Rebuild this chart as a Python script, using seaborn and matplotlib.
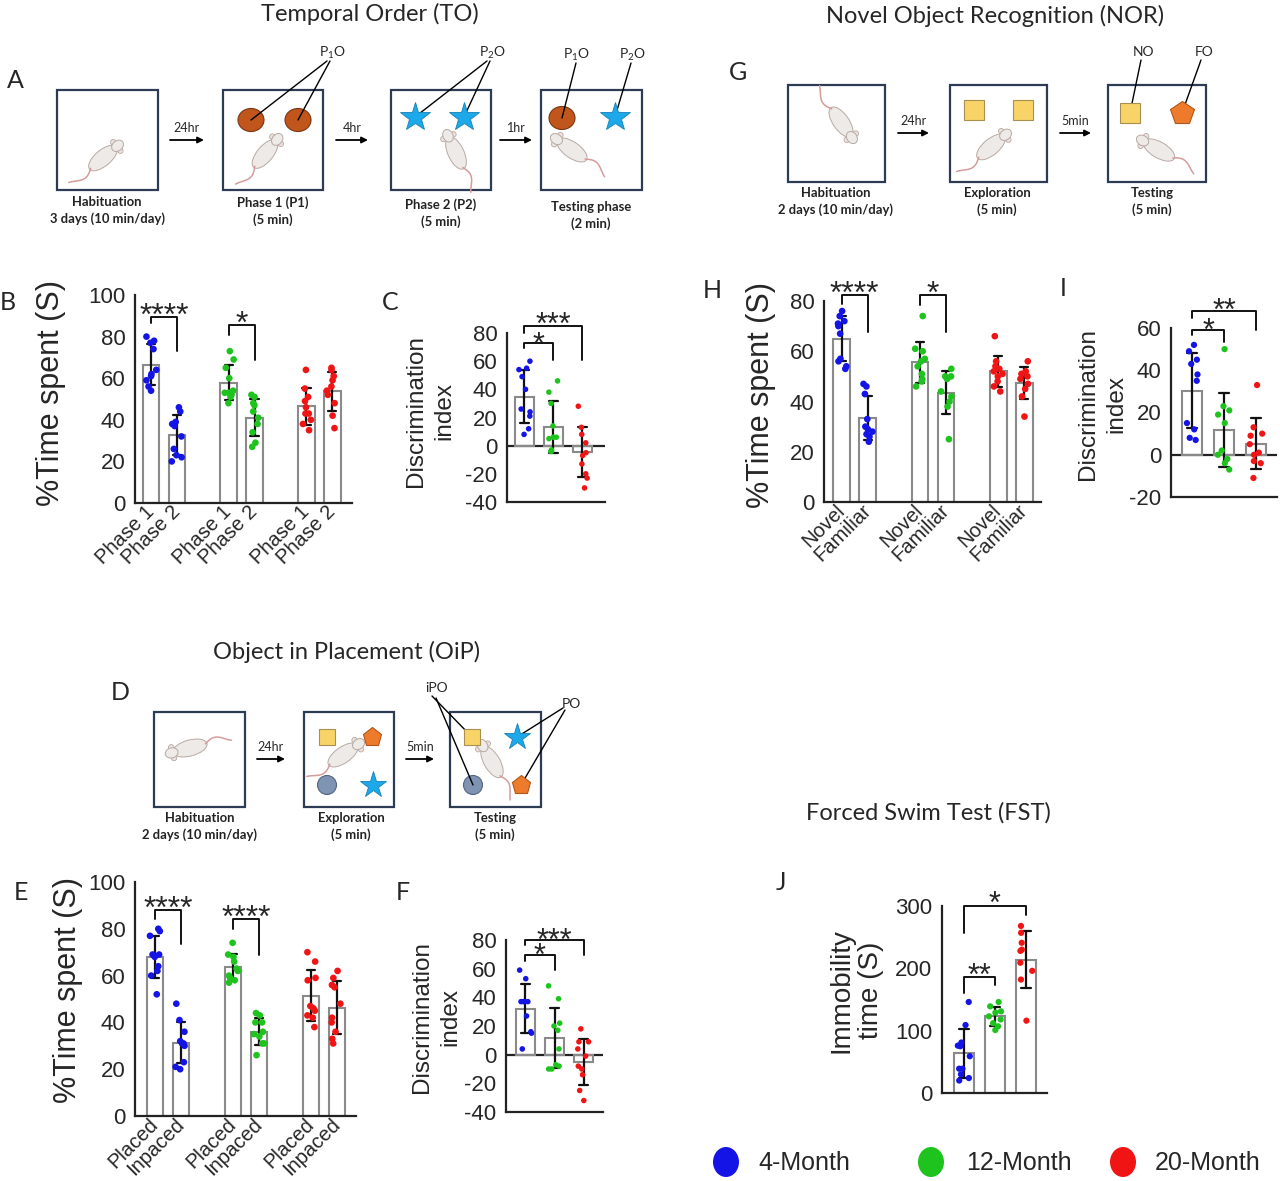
import numpy as np
import pandas as pd
import matplotlib
matplotlib.use('Agg')
import matplotlib.pyplot as plt
from matplotlib.patches import Rectangle, Ellipse
import seaborn as sns

W, H = 1280, 1181

# ---------------- data ----------------
ages = ['4-Month', '12-Month', '20-Month']
age_colors = ['#1414E6', '#1EC31E', '#F01414']

# B  Temporal order, % time spent
to_p1_4m = [80, 78, 77, 74, 64, 62, 61, 59, 56, 54]
to_p2_4m = [46, 44, 39, 38, 37, 32, 26, 23, 22, 20]
to_p1_12m = [73, 69, 65, 60, 54, 53, 53, 52, 51, 48]
to_p2_12m = [52, 51, 48, 47, 44, 41, 38, 34, 29, 27]
to_p1_20m = [64, 55, 51, 49, 46, 43, 43, 40, 38, 35]
to_p2_20m = [65, 64, 61, 59, 56, 54, 52, 48, 42, 36]
to_labels = ['Phase 1', 'Phase 2']

# C  Temporal order, discrimination index
to_di_4m = [60, 55, 54, 49, 40, 26, 24, 21, 12, 8]
to_di_12m = [46, 38, 30, 14, 6, 6, 5, -3, -4, -4]
to_di_20m = [28, 13, 8, 2, -5, -7, -13, -20, -23, -30]

# E  Object in placement, % time spent
oip_pl_4m = [80, 79, 77, 69, 69, 68, 64, 62, 60, 52]
oip_in_4m = [48, 41, 36, 32, 31, 31, 30, 23, 21, 20]
oip_pl_12m = [74, 69, 68, 66, 63, 62, 60, 59, 58, 57]
oip_in_12m = [44, 43, 40, 40, 36, 35, 34, 31, 31, 26]
oip_pl_20m = [70, 66, 59, 58, 47, 46, 45, 43, 42, 38]
oip_in_20m = [62, 59, 56, 55, 48, 42, 40, 36, 33, 31]
oip_labels = ['Placed', 'Inpaced']

# F  Object in placement, discrimination index
oip_di_4m = [59, 53, 37, 37, 37, 37, 27, 16, 15, 4]
oip_di_12m = [48, 39, 22, 20, 17, 4, -7, -8, -10, -10]
oip_di_20m = [18, 9, 9, 4, -1, -8, -10, -14, -25, -32]

# H  Novel object recognition, % time spent
nor_nov_4m = [76, 74, 72, 71, 70, 67, 57, 56, 54, 53]
nor_fam_4m = [47, 46, 43, 33, 30, 29, 28, 27, 26, 24]
nor_nov_12m = [74, 61, 60, 57, 56, 54, 51, 49, 48, 46]
nor_fam_12m = [53, 50, 50, 49, 44, 42, 40, 38, 25]
nor_nov_20m = [66, 56, 54, 53, 52, 51, 50, 48, 46, 44]
nor_fam_20m = [56, 52, 51, 50, 49, 47, 45, 42, 34]
nor_labels = ['Novel', 'Familiar']

# I  Novel object recognition, discrimination index
nor_di_4m = [52, 49, 45, 43, 38, 35, 15, 12, 8, 7]
nor_di_12m = [50, 23, 21, 19, 15, 2, 0, -2, -4, -7]
nor_di_20m = [33, 13, 10, 9, 5, 1, 0, -3, -4, -11]

# J  Forced swim test, immobility time
fst_4m = [146, 109, 81, 76, 75, 59, 39, 39, 30, 24, 20]
fst_12m = [146, 139, 131, 129, 123, 118, 112, 107, 101]
fst_20m = [268, 257, 241, 230, 228, 209, 196, 182, 116]

# ---------------- style ----------------
sns.set_theme(style='white')
plt.rcParams['font.family'] = ['Liberation Sans', 'DejaVu Sans']
plt.rcParams['mathtext.fontset'] = 'custom'
plt.rcParams['mathtext.rm'] = 'Lato'
SCH = ['Lato', 'DejaVu Sans']
palette = dict(zip(ages, age_colors))
np.random.seed(7)

fig = plt.figure(figsize=(W / 100, H / 100), dpi=100)
canvas = fig.add_axes([0, 0, 1, 1], zorder=0)
canvas.set_xlim(0, W)
canvas.set_ylim(H, 0)
canvas.axis('off')


def add_panel(l, t, r, b):
    ax = fig.add_axes([l / W, 1 - b / H, (r - l) / W, (b - t) / H], zorder=2)
    ax.set_facecolor('none')
    return ax


def long_df(groups):
    rows = [(x, age, v) for x, age, vals in groups for v in vals]
    return pd.DataFrame(rows, columns=['x', 'age', 'v'])


def draw_bars(ax, groups, size):
    df = long_df(groups)
    sns.barplot(data=df, x='x', y='v', native_scale=True, errorbar='sd',
                capsize=0.32, fill=False, color='#8a8a8a', linewidth=1.5,
                width=0.64, err_kws={'color': '#111111', 'linewidth': 1.6}, ax=ax)
    sns.stripplot(data=df, x='x', y='v', hue='age', hue_order=ages, palette=palette,
                  native_scale=True, jitter=0.21, size=size, linewidth=0,
                  legend=False, ax=ax)


def style_axis(ax, xlim, ylim, yticks, ylabel, lab_x, lab_y, lab_fs, zero_line=False,
               spacing=1.0):
    ax.set_xlim(*xlim)
    ax.set_ylim(*ylim)
    ax.set_yticks(yticks)
    ax.set_yticklabels([str(t) for t in yticks])
    for s in ['top', 'right']:
        ax.spines[s].set_visible(False)
    for s in ['left', 'bottom']:
        ax.spines[s].set_color('#222222')
        ax.spines[s].set_linewidth(1.6)
    ax.tick_params(axis='y', labelsize=16, length=5, width=1.5, color='#222222', pad=2)
    ax.tick_params(axis='x', length=0, pad=4)
    ax.set_ylabel(ylabel, fontsize=lab_fs, linespacing=spacing)
    ax.yaxis.set_label_coords(lab_x, lab_y)
    ax.set_xlabel('')
    if zero_line:
        ax.axhline(0, color='#222222', lw=1.6, zorder=0.5)


def pair_ticks(ax, labels):
    pos = [0, 1, 3, 4, 6, 7]
    ax.set_xticks(pos)
    ax.set_xticklabels(labels * 3, rotation=45, ha='right', va='center',
                       rotation_mode='anchor', fontsize=14.5)


def bracket(ax, x1, x2, y, y1, y2, stars, fs=23, gap=10):
    ax.plot([x1, x1, x2, x2], [y1, y, y, y2], color='#111111', lw=1.4, clip_on=False)
    # asterisk glyph centre sits ~0.8*fs px above the baseline
    ax.annotate(stars, xy=((x1 + x2) / 2, y), xytext=(0, gap - 0.8 * fs),
                textcoords='offset pixels', ha='center', va='baseline',
                fontsize=fs, annotation_clip=False)


# ---------------- B ----------------
axB = add_panel(135, 295, 352, 503)
draw_bars(axB, [(0, ages[0], to_p1_4m), (1, ages[0], to_p2_4m),
                (3, ages[1], to_p1_12m), (4, ages[1], to_p2_12m),
                (6, ages[2], to_p1_20m), (7, ages[2], to_p2_20m)], 4.8)
style_axis(axB, (-0.62, 7.76), (0, 100), [0, 20, 40, 60, 80, 100],
           '%Time spent (S)', -0.318, 0.53, 22)
pair_ticks(axB, to_labels)
bracket(axB, 0, 1, 89.6, 86.4, 73.1, '****')
bracket(axB, 3, 4, 85.6, 80.8, 68.8, '*')

# ---------------- C ----------------
axC = add_panel(507, 333, 605, 502)
draw_bars(axC, [(0, ages[0], to_di_4m), (1, ages[1], to_di_12m),
                (2, ages[2], to_di_20m)], 4)
style_axis(axC, (-0.6, 2.78), (-40, 80), [-40, -20, 0, 20, 40, 60, 80],
           'Discrimination\nindex', -0.53, 0.54, 17.5, zero_line=True, spacing=1.35)
axC.set_xticks([])
bracket(axC, 0, 2, 84.7, 80, 61, '***', fs=22)
bracket(axC, 0, 1, 72.9, 69.3, 61, '*', fs=22, gap=7)

# ---------------- E ----------------
axE = add_panel(135, 882, 356, 1116)
draw_bars(axE, [(0, ages[0], oip_pl_4m), (1, ages[0], oip_in_4m),
                (3, ages[1], oip_pl_12m), (4, ages[1], oip_in_12m),
                (6, ages[2], oip_pl_20m), (7, ages[2], oip_in_20m)], 4.8)
style_axis(axE, (-0.77, 7.73), (0, 100), [0, 20, 40, 60, 80, 100],
           '%Time spent (S)', -0.237, 0.54, 22)
pair_ticks(axE, oip_labels)
bracket(axE, 0, 1, 88.2, 84.4, 73.4, '****')
bracket(axE, 3, 4, 84.4, 80.1, 68.7, '****')

# ---------------- F ----------------
axF = add_panel(506, 940, 603, 1112)
draw_bars(axF, [(0, ages[0], oip_di_4m), (1, ages[1], oip_di_12m),
                (2, ages[2], oip_di_20m)], 4)
style_axis(axF, (-0.67, 2.67), (-40, 80), [-40, -20, 0, 20, 40, 60, 80],
           'Discrimination\nindex', -0.46, 0.55, 17.5, zero_line=True, spacing=1.35)
axF.set_xticks([])
bracket(axF, 0, 2, 80.1, 76.4, 69.6, '***', fs=22, gap=8)
bracket(axF, 0, 1, 69.3, 65.4, 59.1, '*', fs=22, gap=8)

# ---------------- H ----------------
axH = add_panel(824, 301, 1041, 502)
draw_bars(axH, [(0, ages[0], nor_nov_4m), (1, ages[0], nor_fam_4m),
                (3, ages[1], nor_nov_12m), (4, ages[1], nor_fam_12m),
                (6, ages[2], nor_nov_20m), (7, ages[2], nor_fam_20m)], 4.8)
style_axis(axH, (-0.68, 7.64), (0, 80), [0, 20, 40, 60, 80],
           '%Time spent (S)', -0.22, 0.53, 22)
pair_ticks(axH, nor_labels)
bracket(axH, 0, 1, 82.4, 79, 67.7, '****')
bracket(axH, 3, 4, 82.4, 78.4, 67.7, '*')

# ---------------- I ----------------
axI = add_panel(1171, 328, 1277, 497)
draw_bars(axI, [(0, ages[0], nor_di_4m), (1, ages[1], nor_di_12m),
                (2, ages[2], nor_di_20m)], 4.5)
style_axis(axI, (-0.67, 2.67), (-20, 60), [-20, 0, 20, 40, 60],
           'Discrimination\nindex', -0.415, 0.55, 17.5, zero_line=True, spacing=1.35)
axI.set_xticks([])
bracket(axI, 0, 2, 68.1, 64.9, 59.2, '**', fs=22, gap=9)
bracket(axI, 0, 1, 59.2, 56.6, 53.4, '*', fs=22, gap=7)

# ---------------- J ----------------
axJ = add_panel(942, 906, 1047, 1093)
draw_bars(axJ, [(0, ages[0], fst_4m), (1, ages[1], fst_12m),
                (2, ages[2], fst_20m)], 4.5)
style_axis(axJ, (-0.69, 2.66), (0, 300), [0, 100, 200, 300],
           'Immobility\ntime (S)', -0.55, 0.55, 20, spacing=1.2)
axJ.set_xticks([])
bracket(axJ, 0, 2, 300, 256, 285.5, '*', fs=22, gap=11)
bracket(axJ, 0, 1, 185.4, 159.7, 173, '**', fs=22, gap=10)

# ---------------- schematics ----------------
def box(x0, y0, x1, y1):
    canvas.add_patch(Rectangle((x0, y0), x1 - x0, y1 - y0, fill=False,
                               ec='#2E3B55', lw=1.6))


def arrow(x0, x1, y, label):
    canvas.annotate('', xy=(x1, y), xytext=(x0, y),
                    arrowprops=dict(arrowstyle='-|>', color='black', lw=1.3,
                                    mutation_scale=9, shrinkA=0, shrinkB=0))
    canvas.text((x0 + x1) / 2, y - 6, label, ha='center', va='bottom',
                fontsize=9, family=SCH)


def caption(x, y, txt):
    canvas.text(x, y, txt, ha='center', va='top', fontsize=9.4,
                fontweight='bold', family=SCH, linespacing=1.45, color='#222222')


def obj(x, y, kind, s=None):
    if kind == 'brown':
        canvas.add_patch(Ellipse((x, y), 26, 23, fc='#C0561B', ec='#7A3510', lw=0.8))
    elif kind == 'slate':
        canvas.add_patch(Ellipse((x, y), 19, 19, fc='#7F93B3', ec='#55667F', lw=0.8))
    elif kind == 'star':
        canvas.plot(x, y, marker='*', ms=s or 22, mfc='#1DA9E9', mec='#1680B5', mew=0.6)
    elif kind == 'square':
        canvas.plot(x, y, marker='s', ms=s or 14, mfc='#F8D468', mec='#A99050', mew=0.8)
    elif kind == 'pent':
        canvas.plot(x, y, marker='p', ms=s or 16, mfc='#EE7B2C', mec='#B0561A', mew=0.8)


def pointer(x0, y0, x1, y1):
    canvas.plot([x0, x1], [y0, y1], color='black', lw=1.0)


def mouse(cx, cy, heading, tail=26):
    h = np.deg2rad(heading)
    d = np.array([np.cos(h), -np.sin(h)])
    n = np.array([np.sin(h), np.cos(h)])
    c = np.array([cx, cy])
    t = np.linspace(0, 1, 30)
    base = c - 16 * d
    pts = base[None, :] - (t * tail)[:, None] * d[None, :] + \
        (4 * np.sin(np.pi * 1.3 * t))[:, None] * n[None, :]
    canvas.plot(pts[:, 0], pts[:, 1], color='#D69C9C', lw=1.1)
    canvas.add_patch(Ellipse(c, 35, 16, angle=-heading, fc='#EDEAE7', ec='#B8AAA3', lw=0.7))
    hc = c + 19 * d
    for sgn in (-1, 1):
        canvas.add_patch(Ellipse(hc - 1 * d + sgn * 5.5 * n, 5.5, 5.5, fc='#EDE2E0',
                                 ec='#B8AAA3', lw=0.6))
    canvas.add_patch(Ellipse(hc, 13, 10, angle=-heading, fc='#EDEAE7', ec='#B8AAA3', lw=0.7))


def tag(x, y, txt):
    canvas.text(x, y, txt, ha='center', va='center', fontsize=10, family=SCH)


# A : temporal order
for (x0, x1) in [(57, 158), (223, 323), (391, 491), (541, 642)]:
    box(x0, 90, x1, 190)
arrow(170, 204, 140, '24hr')
arrow(336, 368, 140, '4hr')
arrow(500, 532, 140, '1hr')
caption(107, 196, 'Habituation\n3 days (10 min/day)')
caption(273, 196, 'Phase 1 (P1)\n(5 min)')
caption(441, 198, 'Phase 2 (P2)\n(5 min)')
caption(591, 201, 'Testing phase\n(2 min)')
pointer(327, 61, 251, 120)
pointer(330, 61, 298, 120)
pointer(487, 61, 415, 117)
pointer(490, 61, 464, 117)
pointer(576, 63, 562, 118)
pointer(631, 63, 615, 117)
obj(251, 120, 'brown'); obj(298, 120, 'brown')
obj(415, 117, 'star'); obj(464, 117, 'star')
obj(562, 118, 'brown'); obj(615, 117, 'star')
for x, y, lab in [(332, 53, r'P$_\mathrm{1}$O'), (492, 53, r'P$_\mathrm{2}$O'),
                  (576, 55, r'P$_\mathrm{1}$O'), (632, 55, r'P$_\mathrm{2}$O')]:
    tag(x, y, lab)
mouse(103, 158, 40)
mouse(265, 154, 50)
mouse(456, 153, 115)
mouse(572, 150, 145)

# G : novel object recognition
for (x0, x1) in [(788, 885), (950, 1047), (1108, 1206)]:
    box(x0, 85, x1, 182)
arrow(898, 929, 133, '24hr')
arrow(1060, 1091, 133, '5min')
caption(836, 187, 'Habituation\n2 days (10 min/day)')
caption(997, 187, 'Exploration\n(5 min)')
caption(1152, 187, 'Testing\n(5 min)')
obj(974, 110, 'square', 14); obj(1023, 110, 'square', 14)
pointer(1141, 60, 1130, 113)
pointer(1201, 60, 1182, 113)
obj(1130, 113, 'square', 14); obj(1182, 113, 'pent', 18)
tag(1144, 52, 'NO')
tag(1204, 52, 'FO')
mouse(841, 122, -55)
mouse(991, 147, 40)
mouse(1159, 150, 150)

# D : object in placement
for (x0, x1) in [(154, 245), (304, 394), (450, 541)]:
    box(x0, 712, x1, 807)
arrow(257, 285, 759, '24hr')
arrow(406, 434, 759, '5min')
caption(200, 812, 'Habituation\n2 days (10 min/day)')
caption(351, 812, 'Exploration\n(5 min)')
caption(495, 812, 'Testing\n(5 min)')
obj(327, 737, 'square', 11); obj(372, 737, 'pent', 14)
obj(327, 785, 'slate'); obj(373, 785, 'star', 20)
pointer(432, 696, 472, 737)
pointer(436, 698, 473, 785)
pointer(563, 708, 517, 737)
pointer(565, 710, 521, 785)
obj(472, 737, 'square', 11); obj(517, 737, 'star', 20)
obj(473, 785, 'slate'); obj(521, 785, 'pent', 14)
tag(437, 688, 'iPO')
tag(571, 704, 'PO')
mouse(190, 748, 195)
mouse(343, 755, 35)
mouse(492, 762, 120)

# titles and panel letters
for x, y, t in [(370, 14, 'Temporal Order (TO)'), (995, 16, 'Novel Object Recognition (NOR)'),
                (347, 652, 'Object in Placement (OiP)'), (928, 813, 'Forced Swim Test (FST)')]:
    canvas.text(x, y, t, ha='center', va='center', fontsize=17, family=SCH)
for x, y, t in [(15, 80, 'A'), (8, 302, 'B'), (390, 302, 'C'), (120, 692, 'D'),
                (21, 892, 'E'), (403, 892, 'F'), (738, 73, 'G'), (712, 291, 'H'),
                (1063, 288, 'I'), (781, 882, 'J')]:
    canvas.text(x, y, t, ha='center', va='center', fontsize=18, family=SCH)

# legend
for (ex, tx), age, col in zip([(726, 758), (931, 966), (1123, 1155)], ages, age_colors):
    canvas.add_patch(Ellipse((ex, 1162), 26, 30, fc=col, ec='none'))
    canvas.text(tx, 1163, age, ha='left', va='center', fontsize=18)

fig.savefig('out.png', dpi=100)
